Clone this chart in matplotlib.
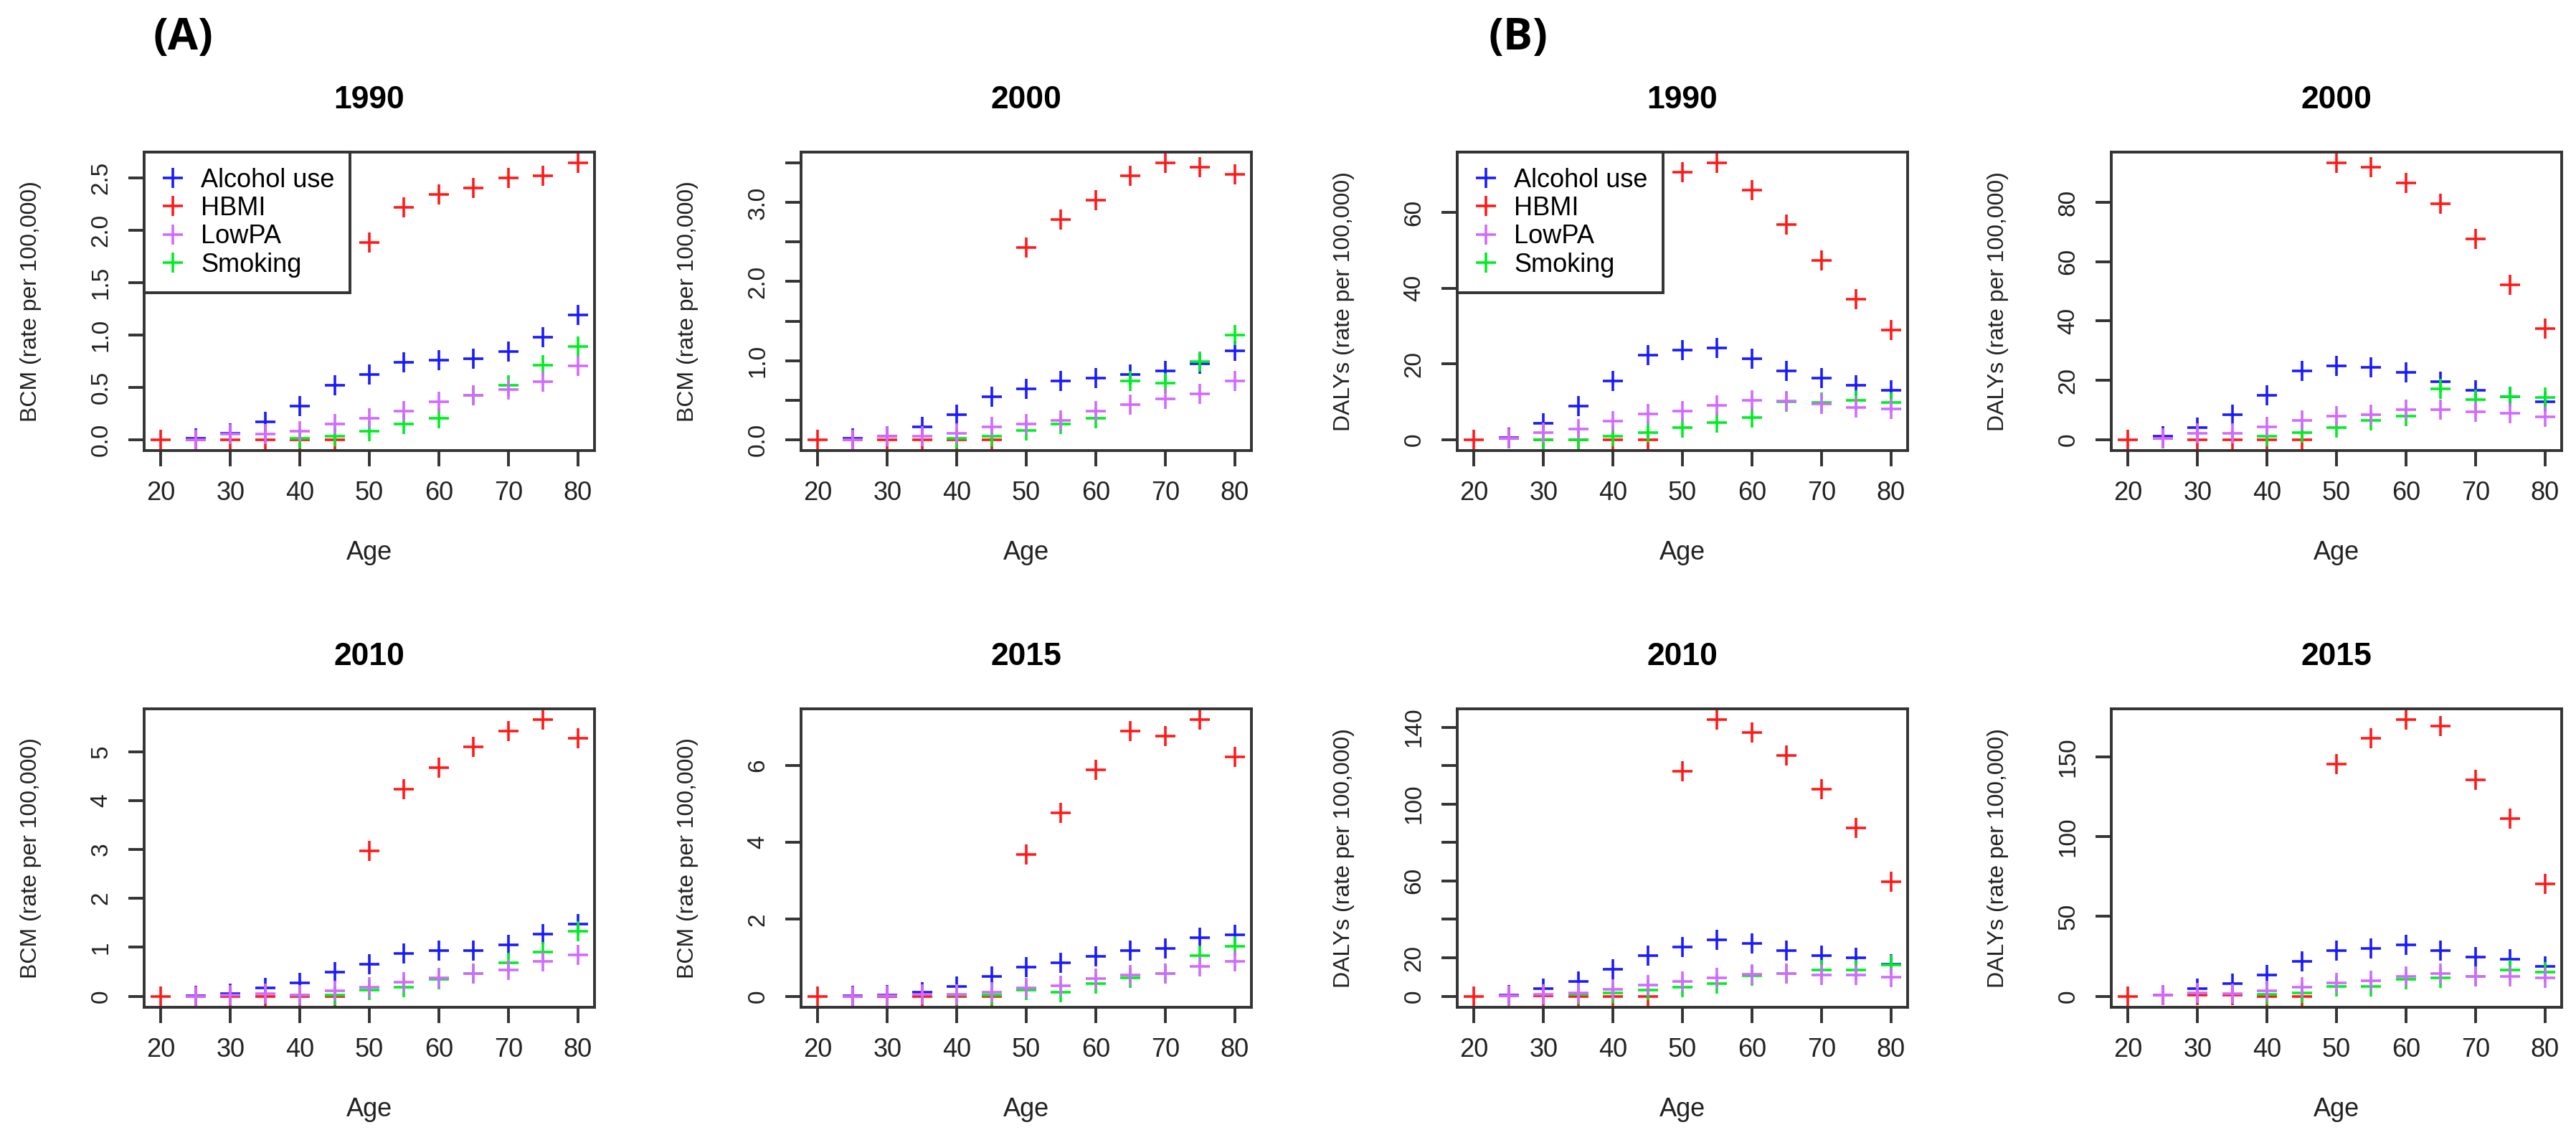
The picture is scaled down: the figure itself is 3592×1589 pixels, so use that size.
import numpy as np
import matplotlib.pyplot as plt
from matplotlib.lines import Line2D

plt.rcParams['font.family'] = ['Liberation Sans', 'DejaVu Sans']

nan = np.nan
ages = [20, 25, 30, 35, 40, 45, 50, 55, 60, 65, 70, 75, 80]
age_ticks = [20, 30, 40, 50, 60, 70, 80]

# (A) BCM (rate per 100,000)
bcm_1990_alcohol = [nan, 0.01, 0.06, 0.17, 0.32, 0.52, 0.62, 0.74, 0.76, 0.77, 0.84, 0.98, 1.19]
bcm_1990_hbmi = [0, 0, 0, 0, 0, 0, 1.88, 2.22, 2.34, 2.40, 2.50, 2.52, 2.64]
bcm_1990_lowpa = [nan, 0, 0.05, 0.05, 0.08, 0.15, 0.20, 0.27, 0.36, 0.42, 0.48, 0.55, 0.70]
bcm_1990_smoking = [nan, nan, nan, nan, 0.01, 0.03, 0.08, 0.15, 0.20, 0.42, 0.52, 0.71, 0.89]

bcm_2000_alcohol = [nan, 0.01, 0.04, 0.16, 0.31, 0.54, 0.64, 0.74, 0.78, 0.82, 0.87, 0.96, 1.12]
bcm_2000_hbmi = [0, 0, 0, 0, 0, 0, 2.43, 2.79, 3.03, 3.34, 3.50, 3.45, 3.36]
bcm_2000_lowpa = [nan, 0, 0.04, 0.04, 0.08, 0.16, 0.20, 0.24, 0.36, 0.44, 0.51, 0.58, 0.74]
bcm_2000_smoking = [nan, nan, nan, nan, 0.01, 0.04, 0.11, 0.20, 0.27, 0.74, 0.71, 0.99, 1.32]

bcm_2010_alcohol = [nan, 0.01, 0.05, 0.17, 0.28, 0.49, 0.66, 0.87, 0.94, 0.94, 1.05, 1.27, 1.47]
bcm_2010_hbmi = [0, 0, 0, 0, 0, 0, 2.97, 4.23, 4.67, 5.10, 5.42, 5.65, 5.27]
bcm_2010_lowpa = [nan, 0, 0.02, 0.05, 0.02, 0.11, 0.19, 0.29, 0.38, 0.47, 0.54, 0.72, 0.84]
bcm_2010_smoking = [nan, nan, nan, nan, 0.03, 0.03, 0.13, 0.19, 0.34, 0.47, 0.68, 0.90, 1.33]

bcm_2015_alcohol = [nan, 0.01, 0.03, 0.11, 0.26, 0.52, 0.76, 0.86, 1.04, 1.19, 1.24, 1.52, 1.60]
bcm_2015_hbmi = [0, 0, 0, 0, 0, 0, 3.68, 4.76, 5.89, 6.89, 6.75, 7.18, 6.21]
bcm_2015_lowpa = [nan, 0, 0.02, 0.04, 0.05, 0.11, 0.21, 0.28, 0.45, 0.55, 0.59, 0.78, 0.90]
bcm_2015_smoking = [nan, nan, nan, nan, 0.03, 0.03, 0.16, 0.11, 0.33, 0.47, 0.59, 1.05, 1.29]

# (B) DALYs (rate per 100,000)
daly_1990_alcohol = [nan, 0.5, 4.2, 8.9, 15.4, 22.4, 23.7, 24.2, 21.4, 18.1, 16.2, 14.4, 13.1]
daly_1990_hbmi = [0, 0.3, 0, 0, 0, 0, 70.8, 73.1, 66.0, 56.8, 47.4, 37.2, 28.9]
daly_1990_lowpa = [nan, 0.3, 1.9, 2.7, 4.8, 6.7, 7.6, 9.0, 10.3, 10.2, 9.4, 8.5, 8.0]
daly_1990_smoking = [nan, nan, 0, 0, 0.9, 1.9, 3.2, 4.4, 5.9, 10.0, 9.8, 10.3, 9.8]

daly_2000_alcohol = [nan, 1.0, 4.1, 8.4, 15.0, 23.2, 24.8, 24.3, 22.7, 19.6, 16.7, 14.5, 12.8]
daly_2000_hbmi = [0, 0.5, 0, 0, 0, 0, 93.3, 92.0, 86.7, 79.5, 67.7, 52.2, 37.4]
daly_2000_lowpa = [nan, 0.3, 2.0, 2.2, 4.3, 6.4, 7.9, 8.3, 10.0, 10.0, 9.4, 8.9, 7.6]
daly_2000_smoking = [nan, nan, nan, nan, 1.2, 2.4, 4.1, 6.4, 7.8, 17.2, 13.5, 14.5, 14.3]

daly_2010_alcohol = [nan, 0.5, 3.8, 7.7, 14.2, 21.1, 25.7, 29.2, 27.6, 23.8, 21.1, 20.1, 16.7]
daly_2010_hbmi = [0, 0.3, 0.3, 0, 0, 0, 117.0, 143.8, 137.1, 125.4, 107.8, 87.6, 59.5]
daly_2010_lowpa = [nan, 0.3, 1.0, 1.9, 3.6, 5.8, 7.7, 9.4, 11.3, 11.9, 10.9, 10.9, 10.0]
daly_2010_smoking = [nan, nan, nan, 1.0, 1.9, 3.3, 4.8, 6.7, 10.5, 11.9, 13.8, 13.8, 16.1]

daly_2015_alcohol = [nan, 0.5, 4.6, 8.1, 13.2, 21.9, 28.8, 29.8, 32.1, 28.8, 24.7, 23.1, 18.9]
daly_2015_hbmi = [0, 0.5, 0.5, 0.5, 0, 0, 145.4, 161.5, 173.1, 169.4, 135.5, 111.2, 70.4]
daly_2015_lowpa = [nan, 0.5, 2.0, 1.6, 3.2, 5.5, 8.5, 9.7, 12.5, 14.3, 12.5, 12.5, 11.5]
daly_2015_smoking = [nan, nan, nan, nan, 1.2, 2.0, 6.2, 6.2, 10.4, 11.5, 12.5, 16.6, 15.0]

risk_names = ['Alcohol use', 'HBMI', 'LowPA', 'Smoking']
risk_colors = ['#1a1aff', '#ff1a1a', '#d16bff', '#00ee22']

panels = [
    ('1990', 'BCM (rate per 100,000)',
     [bcm_1990_alcohol, bcm_1990_hbmi, bcm_1990_lowpa, bcm_1990_smoking],
     [0, 0.5, 1.0, 1.5, 2.0, 2.5], ['0.0', '0.5', '1.0', '1.5', '2.0', '2.5'], True),
    ('2000', 'BCM (rate per 100,000)',
     [bcm_2000_alcohol, bcm_2000_hbmi, bcm_2000_lowpa, bcm_2000_smoking],
     [0, 0.5, 1.0, 1.5, 2.0, 2.5, 3.0, 3.5], ['0.0', '', '1.0', '', '2.0', '', '3.0', ''], False),
    ('1990', 'DALYs (rate per 100,000)',
     [daly_1990_alcohol, daly_1990_hbmi, daly_1990_lowpa, daly_1990_smoking],
     [0, 20, 40, 60], ['0', '20', '40', '60'], True),
    ('2000', 'DALYs (rate per 100,000)',
     [daly_2000_alcohol, daly_2000_hbmi, daly_2000_lowpa, daly_2000_smoking],
     [0, 20, 40, 60, 80], ['0', '20', '40', '60', '80'], False),
    ('2010', 'BCM (rate per 100,000)',
     [bcm_2010_alcohol, bcm_2010_hbmi, bcm_2010_lowpa, bcm_2010_smoking],
     [0, 1, 2, 3, 4, 5], ['0', '1', '2', '3', '4', '5'], False),
    ('2015', 'BCM (rate per 100,000)',
     [bcm_2015_alcohol, bcm_2015_hbmi, bcm_2015_lowpa, bcm_2015_smoking],
     [0, 2, 4, 6], ['0', '2', '4', '6'], False),
    ('2010', 'DALYs (rate per 100,000)',
     [daly_2010_alcohol, daly_2010_hbmi, daly_2010_lowpa, daly_2010_smoking],
     [0, 20, 40, 60, 80, 100, 120, 140], ['0', '20', '', '60', '', '100', '', '140'], False),
    ('2015', 'DALYs (rate per 100,000)',
     [daly_2015_alcohol, daly_2015_hbmi, daly_2015_lowpa, daly_2015_smoking],
     [0, 50, 100, 150], ['0', '50', '100', '150'], False),
]

W, H = 3592, 1589
fig = plt.figure(figsize=(W / 200, H / 200), dpi=200)

col_left = [201, 1117, 2032, 2944]
row_top = [212, 988]
ax_w, ax_h = 628, 416

frame_col = '#333333'
draw_order = [0, 1, 3, 2]  # alcohol, HBMI, smoking, LowPA

for i, (title, ylab, series, yt, ytl, show_leg) in enumerate(panels):
    r, c = divmod(i, 4)
    left = col_left[c] / W
    bottom = 1 - (row_top[r] + ax_h) / H
    ax = fig.add_axes([left, bottom, ax_w / W, ax_h / H])

    for k in draw_order:
        ax.plot(ages, series[k], linestyle='none', marker='+', markersize=10,
                markeredgewidth=1.3, color=risk_colors[k])

    ymax = np.nanmax(series[1])
    ax.set_ylim(-0.04 * ymax, 1.04 * ymax)
    ax.set_xlim(17.6, 82.4)
    ax.set_xticks(age_ticks)
    ax.set_yticks(yt)
    ax.set_yticklabels(ytl, rotation=90, va='center')

    for sp in ax.spines.values():
        sp.set_linewidth(1.4)
        sp.set_color(frame_col)
    ax.tick_params(direction='out', length=8, width=1.4, color=frame_col,
                   labelcolor='#222222')
    ax.tick_params(axis='x', labelsize=13, pad=7)
    ax.tick_params(axis='y', labelsize=12, pad=8)

    ax.set_title(title, fontsize=16, fontweight='bold', pad=22)
    ax.set_xlabel('Age', fontsize=13, color='#222222')
    ax.xaxis.set_label_coords(0.5, -0.30)
    ax.set_ylabel(ylab, fontsize=11.5, color='#222222')
    ax.yaxis.set_label_coords(-0.227, 0.5)

    if show_leg:
        handles = [Line2D([], [], linestyle='none', marker='+', markersize=10,
                          markeredgewidth=1.3, color=col) for col in risk_colors]
        leg = ax.legend(handles, risk_names, loc='upper left', bbox_to_anchor=(0, 1),
                        borderaxespad=0, fontsize=13, handlelength=1.0,
                        handletextpad=0.6, labelspacing=0.12, borderpad=0.6,
                        fancybox=False, framealpha=1, edgecolor=frame_col)
        leg.get_frame().set_linewidth(1.4)

fig.text(255 / W, 1 - 53 / H, '(A)', ha='center', va='center', fontsize=22,
         fontweight='bold', family=['Open Sans', 'DejaVu Sans'])
fig.text(2117 / W, 1 - 53 / H, '(B)', ha='center', va='center', fontsize=22,
         fontweight='bold', family=['Open Sans', 'DejaVu Sans'])

fig.savefig('out.png', dpi=200)
